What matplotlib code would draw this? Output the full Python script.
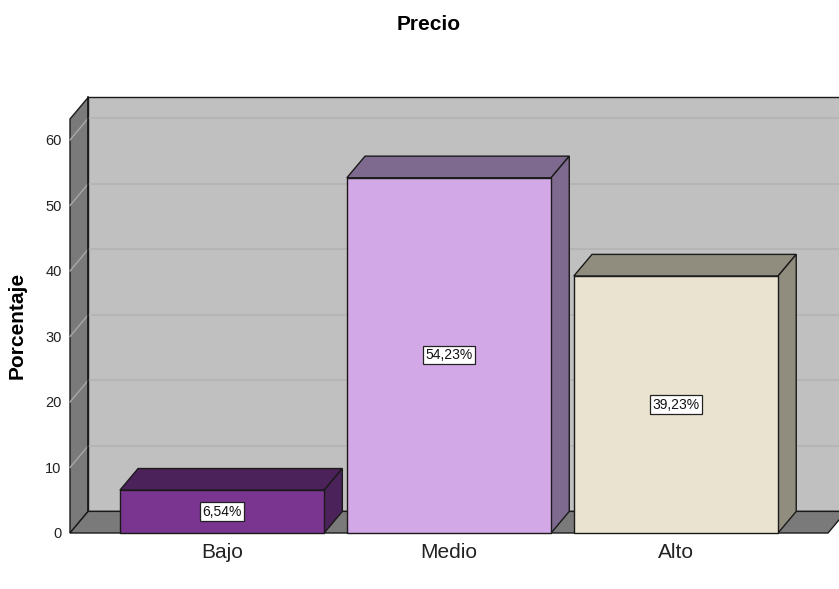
import matplotlib.pyplot as plt
from matplotlib.patches import Polygon

plt.rcParams['font.family'] = ['Liberation Sans', 'DejaVu Sans']

# Datos: distribución porcentual de la variable Precio
categorias = ['Bajo', 'Medio', 'Alto']
porcentajes = [6.54, 54.23, 39.23]
etiquetas = ['6,54%', '54,23%', '39,23%']
marcas_y = [0, 10, 20, 30, 40, 50, 60]

colores_frente = ['#7a3590', '#d2a9e6', '#eae3cf']
colores_lado = ['#4b2259', '#7f6a8f', '#918d7e']

# profundidad del efecto 3D (en unidades de datos)
DX = 0.08
DY = 3.3
ANCHO = 0.9
X0, X1 = -0.67, 2.67
YTOP = 63.2


def poly(ax, pts, color, z, ec='#1a1a1a', lw=1.0):
    p = Polygon(pts, closed=True, facecolor=color, edgecolor=ec, linewidth=lw,
                zorder=z, clip_on=False, joinstyle='miter')
    ax.add_patch(p)
    return p


fig = plt.figure(figsize=(8.39, 5.89), dpi=100)
ax = fig.add_axes([70 / 839, 56 / 589, 758 / 839, 414 / 589])
ax.set_xlim(X0, X1)
ax.set_ylim(0, YTOP)
ax.patch.set_alpha(0)
for s in ax.spines.values():
    s.set_visible(False)

# pared del fondo
poly(ax, [(X0 + DX, DY), (X1 + DX, DY), (X1 + DX, YTOP + DY), (X0 + DX, YTOP + DY)],
     '#c0c0c0', 1)
# pared izquierda
poly(ax, [(X0, 0), (X0 + DX, DY), (X0 + DX, YTOP + DY), (X0, YTOP)], '#7a7a7a', 2)
# piso
poly(ax, [(X0, 0), (X1, 0), (X1 + DX, DY), (X0 + DX, DY)], '#7a7a7a', 2)

# líneas de cuadrícula
for v in marcas_y[1:]:
    ax.plot([X0 + DX, X1 + DX], [v + DY, v + DY], color='#b3b3b3', lw=1.2,
            zorder=1.5, clip_on=False)
    ax.plot([X0, X0 + DX], [v, v + DY], color='#a8a8a8', lw=1.0,
            zorder=2.5, clip_on=False)
ax.plot([X0 + DX, X0 + DX], [DY, YTOP + DY], color='#1a1a1a', lw=1.2, zorder=2.6,
        clip_on=False)

# barras en 3D
for i, (val, cf, cl) in enumerate(zip(porcentajes, colores_frente, colores_lado)):
    a = i - ANCHO / 2
    b = i + ANCHO / 2
    poly(ax, [(a, val), (b, val), (b + DX, val + DY), (a + DX, val + DY)], cl, 5)
    poly(ax, [(b, 0), (b + DX, DY), (b + DX, val + DY), (b, val)], cl, 5)
    poly(ax, [(a, 0), (b, 0), (b, val), (a, val)], cf, 6)
    ax.text(i, val / 2, etiquetas[i], ha='center', va='center', fontsize=10,
            color='#111111', zorder=8,
            bbox=dict(boxstyle='square,pad=0.15', fc='white', ec='#222222', lw=0.9))

ax.set_xticks(range(len(categorias)))
ax.set_xticklabels(categorias, fontsize=15, color='#222222')
ax.set_yticks(marcas_y)
ax.set_yticklabels([str(v) for v in marcas_y], fontsize=10.5, color='#222222')
ax.tick_params(axis='x', length=0, pad=7)
ax.tick_params(axis='y', length=0, pad=6)

fig.text(429 / 839, 1 - 24 / 589, 'Precio', ha='center', va='center',
         fontsize=15, fontweight='bold')
fig.text(17 / 839, 1 - 325 / 589, 'Porcentaje', ha='center', va='center',
         rotation=90, fontsize=15, fontweight='bold')
fig.text(449 / 839, 1 - 588.5 / 589, 'Precio', ha='center', va='top',
         fontsize=15, fontweight='bold')

fig.savefig('out.png', dpi=100)
